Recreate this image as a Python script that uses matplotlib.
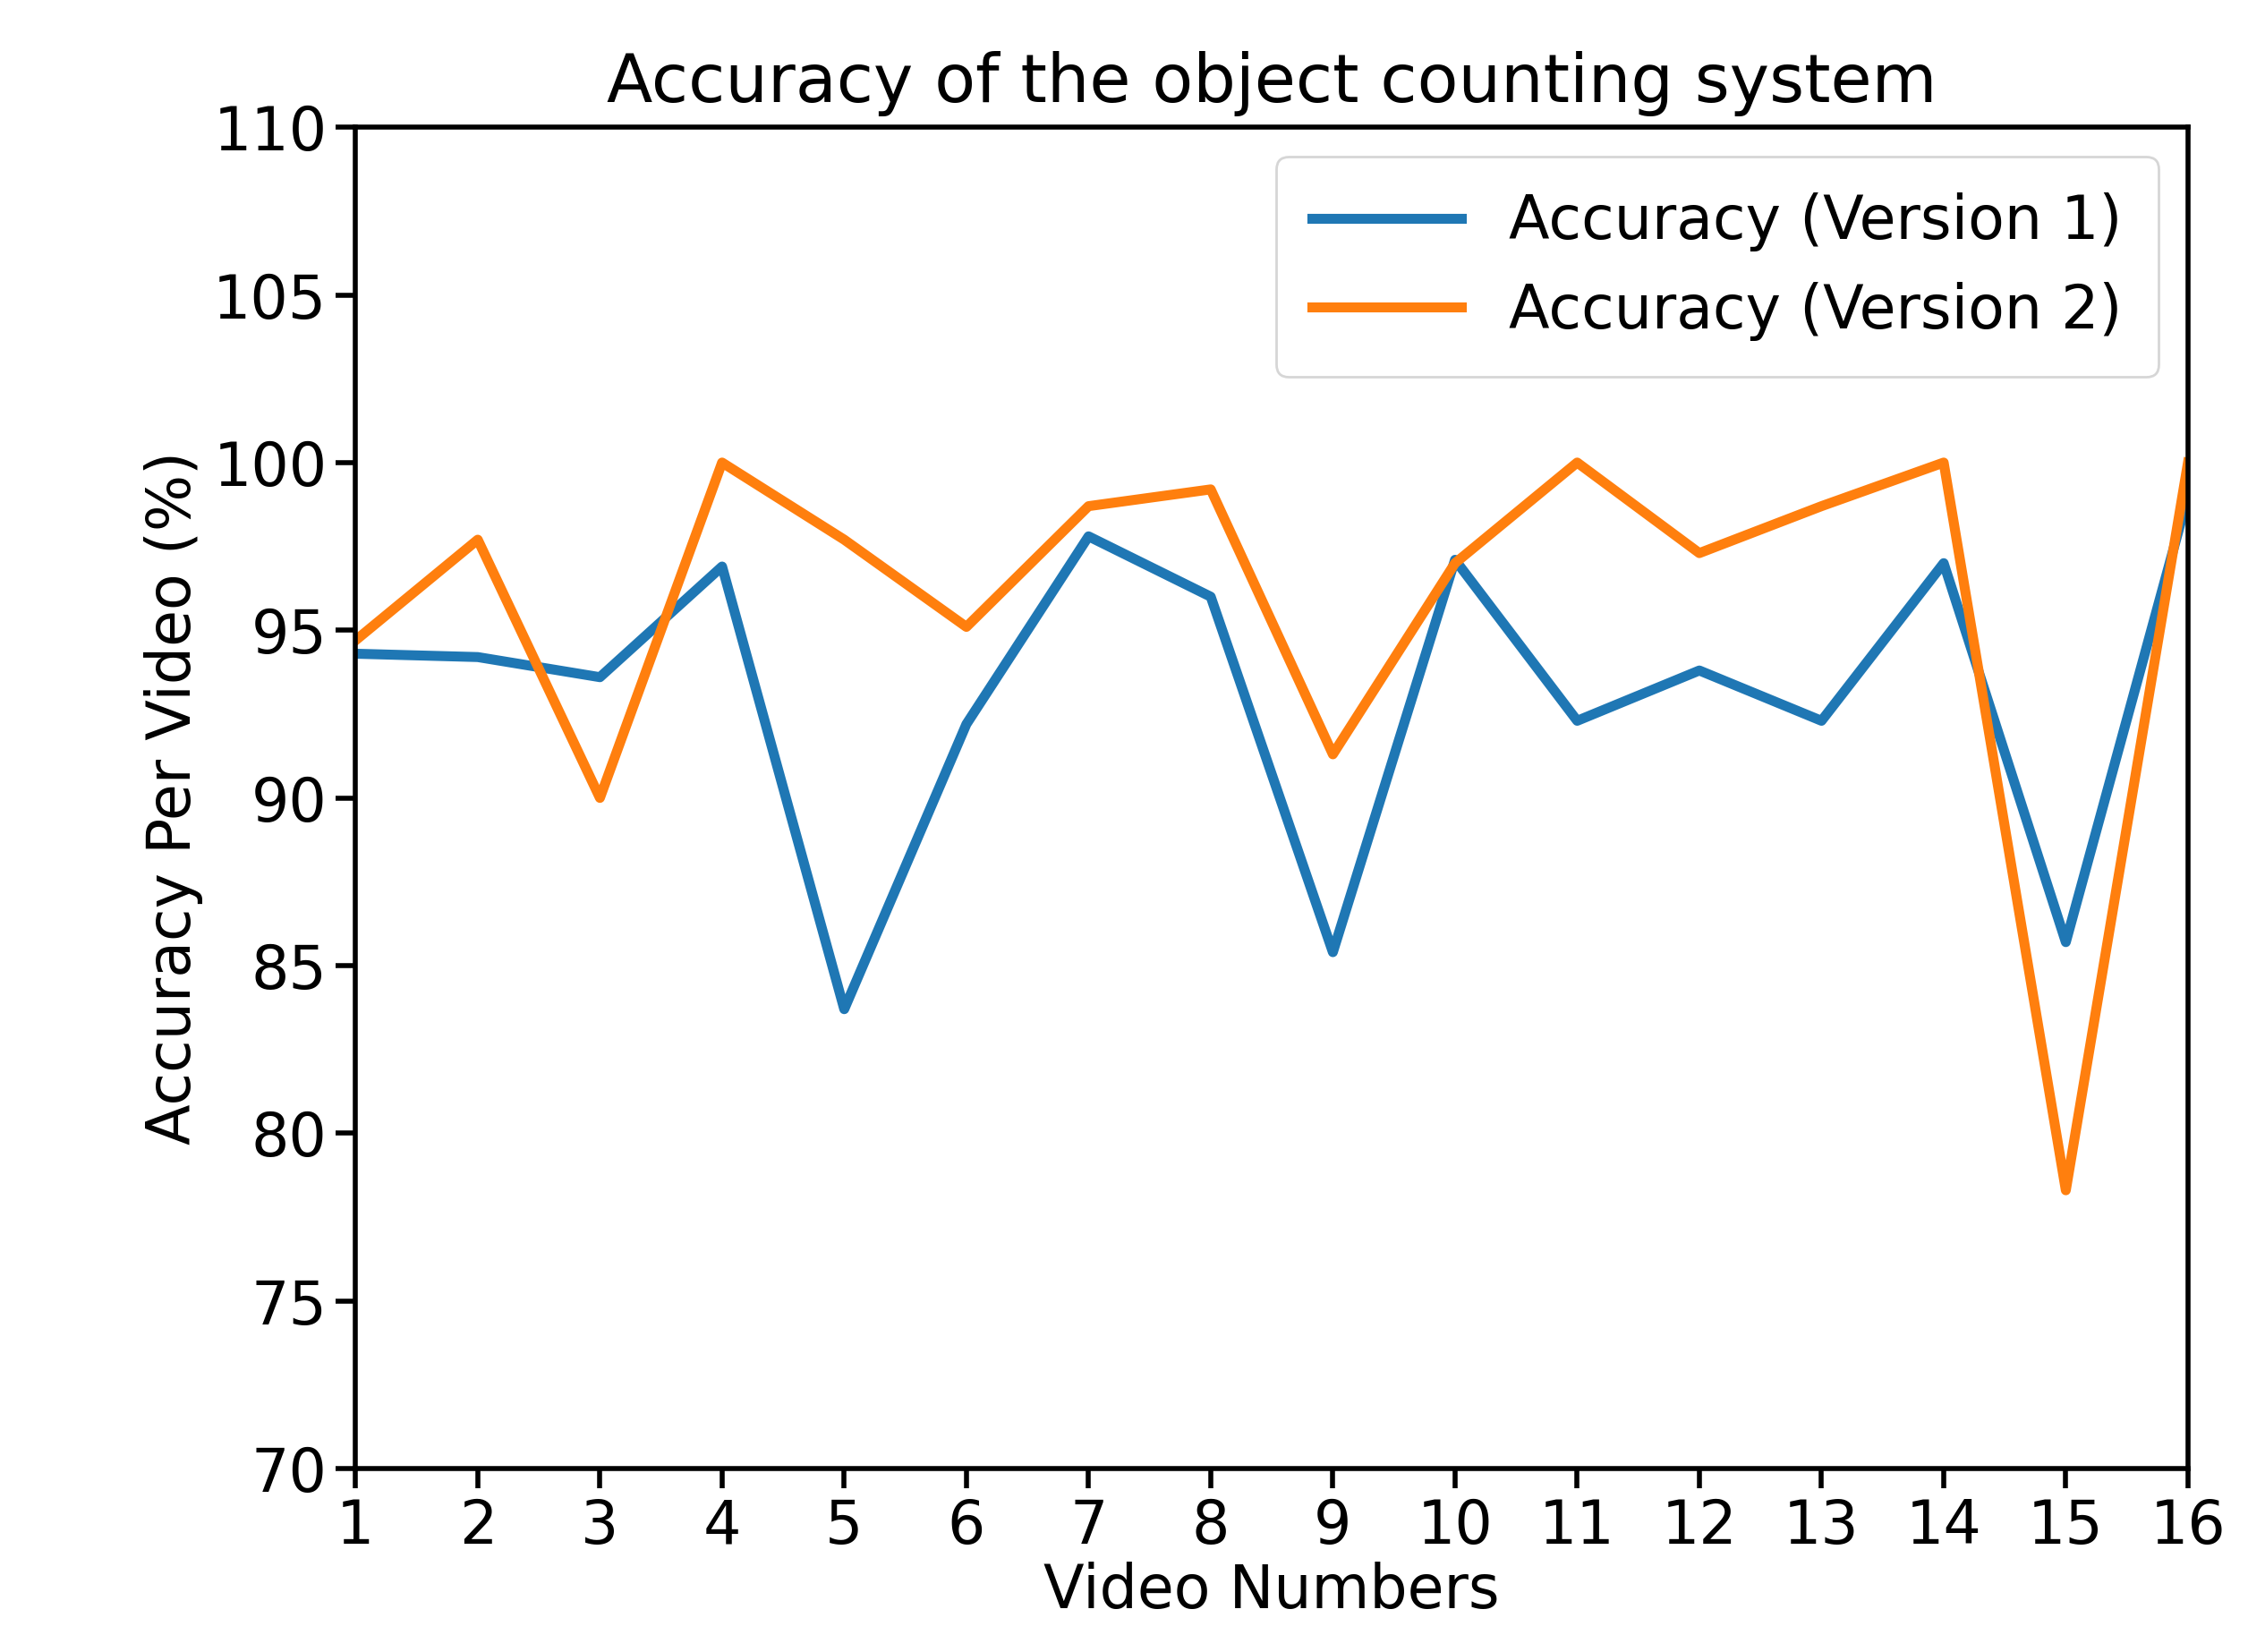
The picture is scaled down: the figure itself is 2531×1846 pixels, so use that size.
import numpy as np
import matplotlib.pyplot as plt

videos = list(range(1, 17))
acc_v1 = [94.3, 94.2, 93.6, 96.9, 83.7, 92.2, 97.8, 96.0, 85.4, 97.1, 92.3, 93.8, 92.3, 97.0, 85.7, 99.0]
acc_v2 = [94.7, 97.7, 90.0, 100.0, 97.7, 95.1, 98.7, 99.2, 91.3, 97.0, 100.0, 97.3, 98.7, 100.0, 78.3, 100.0]

fig = plt.figure(figsize=(12.655, 9.23), dpi=200)
ax = fig.add_axes([0.157, 0.111, 0.809, 0.812])
ax.plot(videos, acc_v1, color='#1f77b4', linewidth=4, label='Accuracy (Version 1)')
ax.plot(videos, acc_v2, color='#ff7f0e', linewidth=4, label='Accuracy (Version 2)')
ax.set_xlim(1, 16)
ax.set_ylim(70, 110)
ax.set_xticks(videos)
ax.set_yticks(np.arange(70, 111, 5))
ax.tick_params(labelsize=24, width=2, length=8)
for s in ax.spines.values():
    s.set_linewidth(2)
ax.set_xlabel("Video Numbers", fontsize=24, labelpad=2)
ax.set_ylabel("Accuracy Per Video (%)", fontsize=24)
ax.set_title("Accuracy of the object counting system", fontsize=27, pad=10)
leg = ax.legend(loc='upper right', fontsize=24, handlelength=2.5, borderpad=0.6)
fig.savefig('out.png', dpi=200, facecolor='white')
